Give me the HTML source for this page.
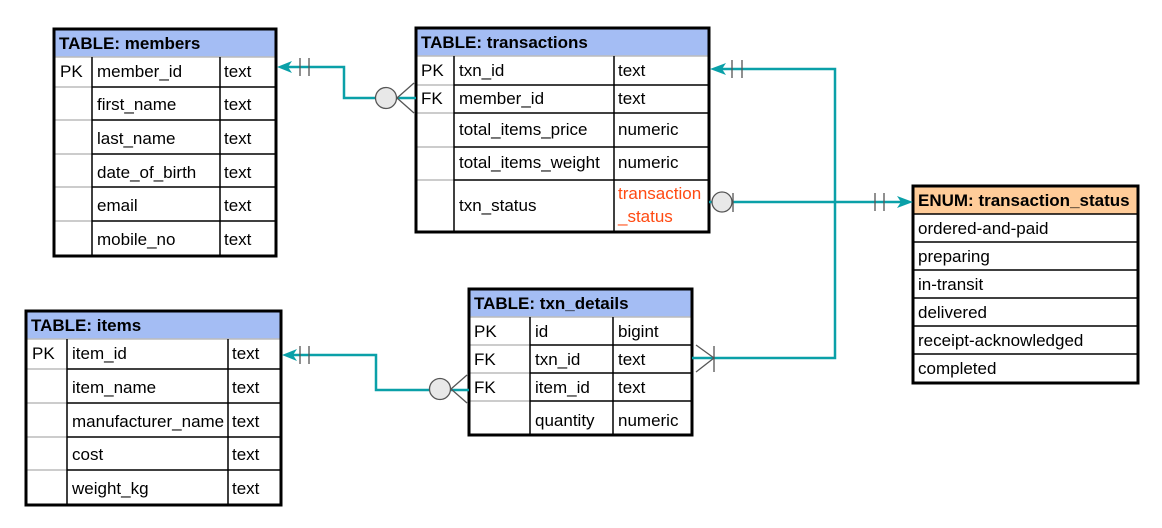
<!DOCTYPE html>
<html><head><meta charset="utf-8"><style>
html,body{margin:0;padding:0;background:#fff;}
svg{display:block;font-family:"Liberation Sans",sans-serif;}
.t{font-size:17px;fill:#000;}
.h{font-size:17px;font-weight:bold;fill:#000;}
.g{stroke:#bbb;stroke-width:1.5;}
.k{stroke:#000;stroke-width:1.5;}
.o{fill:none;stroke:#000;stroke-width:3;}
.c{fill:none;stroke:#0aa0a8;stroke-width:2.5;}
.m{stroke:#555;stroke-width:1.3;fill:none;}
</style></head><body>
<svg width="1162" height="528" viewBox="0 0 1162 528">
<!-- members -->
<rect x="54" y="29" width="222" height="28" fill="#a4bdf4"/>
<g>
<line class="g" x1="54" y1="87" x2="92" y2="87"/><line class="k" x1="92" y1="87" x2="276" y2="87"/>
<line class="g" x1="54" y1="120" x2="92" y2="120"/><line class="k" x1="92" y1="120" x2="276" y2="120"/>
<line class="g" x1="54" y1="154" x2="92" y2="154"/><line class="k" x1="92" y1="154" x2="276" y2="154"/>
<line class="g" x1="54" y1="187" x2="92" y2="187"/><line class="k" x1="92" y1="187" x2="276" y2="187"/>
<line class="g" x1="54" y1="221" x2="92" y2="221"/><line class="k" x1="92" y1="221" x2="276" y2="221"/>
<line class="g" x1="54" y1="57" x2="276" y2="57"/>
<line class="k" x1="92" y1="57" x2="92" y2="256"/><line class="k" x1="220" y1="57" x2="220" y2="256"/>
<rect class="o" x="54" y="29" width="222" height="227"/>
</g>
<text class="h" x="59" y="49">TABLE: members</text>
<text class="t" x="60" y="77">PK</text><text class="t" x="97" y="77">member_id</text><text class="t" x="224" y="77">text</text>
<text class="t" x="97" y="110">first_name</text><text class="t" x="224" y="110">text</text>
<text class="t" x="97" y="144">last_name</text><text class="t" x="224" y="144">text</text>
<text class="t" x="97" y="178">date_of_birth</text><text class="t" x="224" y="178">text</text>
<text class="t" x="97" y="211">email</text><text class="t" x="224" y="211">text</text>
<text class="t" x="97" y="245">mobile_no</text><text class="t" x="224" y="245">text</text>

<!-- transactions -->
<rect x="416" y="28" width="293" height="28" fill="#a4bdf4"/>
<line class="g" x1="416" y1="56" x2="709" y2="56"/>
<line class="g" x1="416" y1="85" x2="454" y2="85"/><line class="k" x1="454" y1="85" x2="709" y2="85"/>
<line class="g" x1="416" y1="113" x2="454" y2="113"/><line class="k" x1="454" y1="113" x2="709" y2="113"/>
<line class="g" x1="416" y1="147" x2="454" y2="147"/><line class="k" x1="454" y1="147" x2="709" y2="147"/>
<line class="g" x1="416" y1="180" x2="454" y2="180"/><line class="k" x1="454" y1="180" x2="709" y2="180"/>
<line class="k" x1="454" y1="56" x2="454" y2="232"/><line class="k" x1="614" y1="56" x2="614" y2="232"/>
<rect class="o" x="416" y="28" width="293" height="204"/>
<text class="h" x="421" y="48">TABLE: transactions</text>
<text class="t" x="421" y="76">PK</text><text class="t" x="459" y="76">txn_id</text><text class="t" x="618" y="76">text</text>
<text class="t" x="421" y="104">FK</text><text class="t" x="459" y="104">member_id</text><text class="t" x="618" y="104">text</text>
<text class="t" x="459" y="135">total_items_price</text><text class="t" x="618" y="135">numeric</text>
<text class="t" x="459" y="168">total_items_weight</text><text class="t" x="618" y="168">numeric</text>
<text class="t" x="459" y="211">txn_status</text>
<text class="t" x="618" y="199" style="fill:#ff4a12">transaction</text>
<text class="t" x="618" y="222" style="fill:#ff4a12">_status</text>

<!-- enum -->
<rect x="913" y="186" width="225" height="28" fill="#ffcc99"/>
<line class="k" x1="913" y1="214" x2="1138" y2="214"/>
<line class="k" x1="913" y1="242" x2="1138" y2="242"/>
<line class="k" x1="913" y1="270" x2="1138" y2="270"/>
<line class="k" x1="913" y1="298" x2="1138" y2="298"/>
<line class="k" x1="913" y1="326" x2="1138" y2="326"/>
<line class="k" x1="913" y1="354" x2="1138" y2="354"/>
<rect class="o" x="913" y="186" width="225" height="197"/>
<text class="h" x="918" y="206">ENUM: transaction_status</text>
<text class="t" x="918" y="234">ordered-and-paid</text>
<text class="t" x="918" y="262">preparing</text>
<text class="t" x="918" y="290">in-transit</text>
<text class="t" x="918" y="318">delivered</text>
<text class="t" x="918" y="346">receipt-acknowledged</text>
<text class="t" x="918" y="374">completed</text>

<!-- txn_details -->
<rect x="469" y="289" width="223" height="28" fill="#a4bdf4"/>
<line class="g" x1="469" y1="317" x2="692" y2="317"/>
<line class="g" x1="469" y1="345" x2="530" y2="345"/><line class="k" x1="530" y1="345" x2="692" y2="345"/>
<line class="g" x1="469" y1="373" x2="530" y2="373"/><line class="k" x1="530" y1="373" x2="692" y2="373"/>
<line class="g" x1="469" y1="401" x2="530" y2="401"/><line class="k" x1="530" y1="401" x2="692" y2="401"/>
<line class="k" x1="530" y1="317" x2="530" y2="435"/><line class="k" x1="613" y1="317" x2="613" y2="435"/>
<rect class="o" x="469" y="289" width="223" height="146"/>
<text class="h" x="474" y="309">TABLE: txn_details</text>
<text class="t" x="474" y="337">PK</text><text class="t" x="535" y="337">id</text><text class="t" x="618" y="337">bigint</text>
<text class="t" x="474" y="365">FK</text><text class="t" x="535" y="365">txn_id</text><text class="t" x="618" y="365">text</text>
<text class="t" x="474" y="393">FK</text><text class="t" x="535" y="393">item_id</text><text class="t" x="618" y="393">text</text>
<text class="t" x="535" y="426">quantity</text><text class="t" x="618" y="426">numeric</text>

<!-- items -->
<rect x="26" y="311" width="255" height="28" fill="#a4bdf4"/>
<line class="g" x1="26" y1="339" x2="281" y2="339"/>
<line class="g" x1="26" y1="369" x2="67" y2="369"/><line class="k" x1="67" y1="369" x2="281" y2="369"/>
<line class="g" x1="26" y1="403" x2="67" y2="403"/><line class="k" x1="67" y1="403" x2="281" y2="403"/>
<line class="g" x1="26" y1="437" x2="67" y2="437"/><line class="k" x1="67" y1="437" x2="281" y2="437"/>
<line class="g" x1="26" y1="470" x2="67" y2="470"/><line class="k" x1="67" y1="470" x2="281" y2="470"/>
<line class="k" x1="67" y1="339" x2="67" y2="505"/><line class="k" x1="228" y1="339" x2="228" y2="505"/>
<rect class="o" x="26" y="311" width="255" height="194"/>
<text class="h" x="31" y="331">TABLE: items</text>
<text class="t" x="32" y="359">PK</text><text class="t" x="72" y="359">item_id</text><text class="t" x="232" y="359">text</text>
<text class="t" x="72" y="393">item_name</text><text class="t" x="232" y="393">text</text>
<text class="t" x="72" y="427">manufacturer_name</text><text class="t" x="232" y="427">text</text>
<text class="t" x="72" y="460">cost</text><text class="t" x="232" y="460">text</text>
<text class="t" x="72" y="494">weight_kg</text><text class="t" x="232" y="494">text</text>

<!-- connectors -->
<polyline class="c" points="416,98 344,98 344,67 284,67"/>
<polygon points="277,67 292,61 288,67 292,73" fill="#0aa0a8"/>
<line class="m" x1="300" y1="58" x2="300" y2="76"/><line class="m" x1="309" y1="58" x2="309" y2="76"/>
<line class="m" x1="397" y1="98" x2="414" y2="83"/><line class="m" x1="397" y1="98" x2="414" y2="113"/>
<circle cx="386" cy="98" r="10.5" fill="#e8e8e8" stroke="#555" stroke-width="1.3"/>

<polyline class="c" points="709,202 905,202"/>
<polygon points="913,202 897,196 901,202 897,208" fill="#0aa0a8"/>
<line class="m" x1="875" y1="193" x2="875" y2="211"/><line class="m" x1="884" y1="193" x2="884" y2="211"/>
<circle cx="722" cy="202" r="10" fill="#e8e8e8" stroke="#555" stroke-width="1.3"/>
<line class="m" x1="733" y1="193" x2="733" y2="212"/>

<polyline class="c" points="692,358 835,358 835,69 718,69"/>
<polygon points="710,69 726,63 722,69 726,75" fill="#0aa0a8"/>
<line class="m" x1="732" y1="60" x2="732" y2="78"/><line class="m" x1="742" y1="60" x2="742" y2="78"/>
<line class="m" x1="696" y1="345" x2="714" y2="358"/><line class="m" x1="696" y1="372" x2="714" y2="358"/>
<line class="m" x1="714" y1="346" x2="714" y2="372"/>

<polyline class="c" points="469,390 376,390 376,355 290,355"/>
<polygon points="282,355 297,349 293,355 297,361" fill="#0aa0a8"/>
<line class="m" x1="300" y1="346" x2="300" y2="364"/><line class="m" x1="309" y1="346" x2="309" y2="364"/>
<line class="m" x1="451" y1="389" x2="467" y2="375"/><line class="m" x1="451" y1="389" x2="467" y2="403"/>
<circle cx="440" cy="389" r="10.5" fill="#e8e8e8" stroke="#555" stroke-width="1.3"/>
</svg>
</body></html>
